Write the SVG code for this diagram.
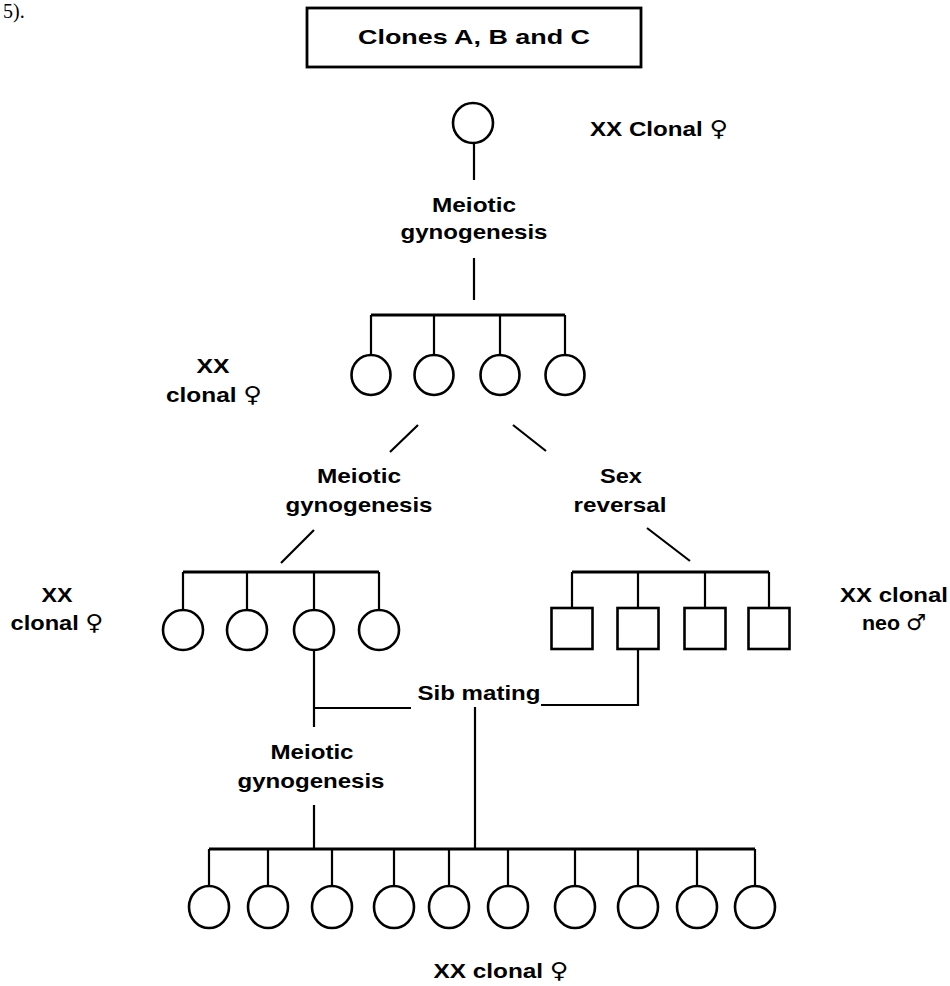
<svg xmlns="http://www.w3.org/2000/svg" width="950" height="986" viewBox="0 0 950 986">
<style>
text{font-family:"Liberation Sans",Arial,sans-serif;font-weight:bold;font-size:21px;fill:#000;text-anchor:middle}
.sym{font-family:"DejaVu Sans",sans-serif;font-weight:normal;font-size:22px}
.ln{stroke:#000;stroke-width:2.2;fill:none}
.bar{stroke:#000;stroke-width:3;fill:none}
.f{stroke:#000;stroke-width:2.6;fill:#fff}
</style>
<rect width="950" height="986" fill="#fff"/>
<text x="3" y="18" style="font-family:'Liberation Serif',serif;font-weight:normal;font-size:20px;text-anchor:start">5).</text>
<g id="title"><rect x="307" y="8" width="334" height="59" fill="#fff" stroke="#000" stroke-width="2.8"/><text x="474" y="44" font-size="24" textLength="232" lengthAdjust="spacingAndGlyphs">Clones A, B and C</text></g>
<g id="connectors">
<path class="ln" d="M474 143V180M474 258V300"/>
<path class="bar" d="M371 315H565"/>
<path class="ln" d="M371 315V355M434 315V355M500 315V355M565 315V355"/>
<path class="ln" d="M418 425L390 452M513 425L546 451M314 530L281 563M647 528L690 561"/>
<path class="bar" d="M183 572H379M572 572H769"/>
<path class="ln" d="M183 572V610M247 572V610M314 572V610M379 572V610"/>
<path class="ln" d="M572 572V608M638 572V608M705 572V608M769 572V608"/>
<path class="ln" d="M314 650V727M314 708H411M541 705H638V649M475 707V849M314 805V849"/>
<path class="bar" d="M209 849H755"/>
<path class="ln" d="M209 849V887M268 849V887M332 849V887M394 849V887M449 849V887M508 849V887M575 849V887M638 849V887M697 849V887M755 849V887"/>
</g>
<g id="p0"><ellipse class="f" cx="473" cy="123" rx="20" ry="20"/></g>
<g id="g1"><ellipse class="f" cx="371" cy="375" rx="19.5" ry="20"/><ellipse class="f" cx="434" cy="375" rx="19.5" ry="20"/><ellipse class="f" cx="500" cy="375" rx="19.5" ry="20"/><ellipse class="f" cx="565" cy="375" rx="19.5" ry="20"/></g>
<g id="g2f"><ellipse class="f" cx="183" cy="630" rx="20" ry="20"/><ellipse class="f" cx="247" cy="630" rx="20" ry="20"/><ellipse class="f" cx="314" cy="630" rx="20" ry="20"/><ellipse class="f" cx="379" cy="630" rx="20" ry="20"/></g>
<g id="g2m"><rect class="f" x="551.5" y="608" width="41" height="41"/><rect class="f" x="617.5" y="608" width="41" height="41"/><rect class="f" x="684.5" y="608" width="41" height="41"/><rect class="f" x="748.5" y="608" width="41" height="41"/></g>
<g id="g3"><ellipse class="f" cx="209" cy="907" rx="20" ry="21"/><ellipse class="f" cx="268" cy="907" rx="20" ry="21"/><ellipse class="f" cx="332" cy="907" rx="20" ry="21"/><ellipse class="f" cx="394" cy="907" rx="20" ry="21"/><ellipse class="f" cx="449" cy="907" rx="20" ry="21"/><ellipse class="f" cx="508" cy="907" rx="20" ry="21"/><ellipse class="f" cx="575" cy="907" rx="20" ry="21"/><ellipse class="f" cx="638" cy="907" rx="20" ry="21"/><ellipse class="f" cx="697" cy="907" rx="20" ry="21"/><ellipse class="f" cx="755" cy="907" rx="20" ry="21"/></g>
<g id="labels">
<text x="659" y="136" textLength="138" lengthAdjust="spacingAndGlyphs">XX Clonal <tspan class="sym">♀</tspan></text>
<text x="474" y="212" textLength="84" lengthAdjust="spacingAndGlyphs">Meiotic</text>
<text x="474" y="239" textLength="147" lengthAdjust="spacingAndGlyphs">gynogenesis</text>
<text x="213" y="373" textLength="33" lengthAdjust="spacingAndGlyphs">XX</text>
<text x="214" y="402" textLength="96" lengthAdjust="spacingAndGlyphs">clonal <tspan class="sym">♀</tspan></text>
<text x="359" y="483" textLength="84" lengthAdjust="spacingAndGlyphs">Meiotic</text>
<text x="359" y="512" textLength="147" lengthAdjust="spacingAndGlyphs">gynogenesis</text>
<text x="621" y="483" textLength="42" lengthAdjust="spacingAndGlyphs">Sex</text>
<text x="620" y="512" textLength="93" lengthAdjust="spacingAndGlyphs">reversal</text>
<text x="57" y="602" textLength="31" lengthAdjust="spacingAndGlyphs">XX</text>
<text x="57" y="630" textLength="93" lengthAdjust="spacingAndGlyphs">clonal <tspan class="sym">♀</tspan></text>
<text x="894" y="602" textLength="108" lengthAdjust="spacingAndGlyphs">XX clonal</text>
<text x="894" y="630" textLength="64" lengthAdjust="spacingAndGlyphs">neo <tspan class="sym">♂</tspan></text>
<text x="479" y="700" textLength="123" lengthAdjust="spacingAndGlyphs">Sib mating</text>
<text x="312" y="759" textLength="83" lengthAdjust="spacingAndGlyphs">Meiotic</text>
<text x="311" y="788" textLength="147" lengthAdjust="spacingAndGlyphs">gynogenesis</text>
<text x="501" y="978" textLength="135" lengthAdjust="spacingAndGlyphs">XX clonal <tspan class="sym">♀</tspan></text>
</g>
</svg>
